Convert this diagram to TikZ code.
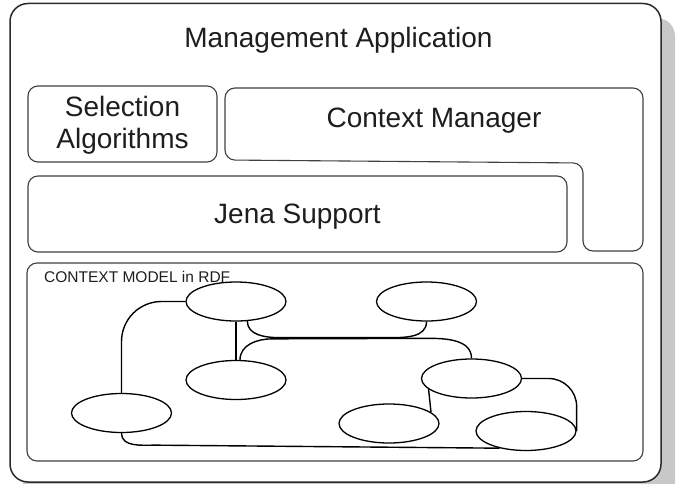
\documentclass[tikz,border=0pt]{standalone}
\usepackage{fontspec}
\setmainfont{Liberation Sans}
\usetikzlibrary{shapes.geometric}
\definecolor{boxgray}{HTML}{404040}
\definecolor{outergray}{HTML}{2A2A2A}
\definecolor{shadowgray}{HTML}{C8C8C8}
\definecolor{textgray}{HTML}{1E1E1E}
\begin{document}
\begin{tikzpicture}[x=1pt,y=-1pt,
  box/.style={draw=boxgray, line width=1.1pt, rounded corners=10pt},
  big/.style={font=\fontsize{28}{31}\selectfont, inner sep=0pt, text=textgray},
  small/.style={font=\fontsize{15.5}{17}\selectfont, inner sep=0pt, text=textgray},
  ell/.style={ellipse, draw=black, fill=white, line width=1.3pt, minimum width=100pt, minimum height=39pt, inner sep=0pt},
  link/.style={draw=black, line width=1.4pt}]
\useasboundingbox (0,0) rectangle (677,484);
% shadow and outer frame
\fill[shadowgray, rounded corners=18pt] (23,18) rectangle (675,500);
\draw[fill=white, draw=outergray, line width=1.5pt, rounded corners=18pt] (10,3.5) rectangle (661,482);
\node[big, anchor=base] (title) at (338.5,48) {Management Application};
% selection algorithms
\node[box, minimum width=189pt, minimum height=76pt] (sel) at (122.5,124) {};
\node[big, anchor=base] (selA) at (122.5,117) {Selection};
\node[big, anchor=base] (selB) at (122.5,149) {Algorithms};
% context manager
\draw[box] (225,88) -- (643,88) -- (643,251) -- (583,251) -- (583,163) -- (225,160) -- cycle;
\node[big, anchor=base] (cmgr) at (434,128) {Context Manager};
% jena
\node[box, minimum width=539pt, minimum height=76pt] (jena) at (297.5,214) {};
\node[big, anchor=base] (jenaT) at (297.5,223) {Jena Support};
% context model
\node[box, minimum width=616pt, minimum height=198pt] (model) at (335,362) {};
\node[small, anchor=base west] (modelT) at (44,282) {CONTEXT MODEL in RDF};
% ellipses
\node[ell] (e1) at (236,301.5) {};
\node[ell] (e2) at (236,380) {};
\node[ell] (e3) at (121.5,413) {};
\node[ell] (e4) at (426.5,301.5) {};
\node[ell] (e5) at (471.5,378.5) {};
\node[ell] (e6) at (389,423.5) {};
\node[ell] (e7) at (526,431) {};
% links
\draw[link, rounded corners=40pt] (e1.west) -| (e3.north);
\draw[link] (e1.south) -- (e2.north);
\draw[link] (e1.300) to[out=-90,in=180] ([shift={(32,16.5)}]e1.300)
  -- ([shift={(-38,16)}]e4.south) to[out=0,in=-90] (e4.south);
\draw[link] ([xshift=4pt]e2.north) to[out=90,in=180] ([shift={(36,-21)}]e2.north)
  -- ([shift={(-42,-20)}]e5.north) to[out=0,in=90] (e5.north);
\draw[link] (e5.194.7) -- (e6.15.3);
\draw[link, rounded corners=28pt] (e5.east) -| (e7.east);
\draw[link] (e3.south) to[out=-90,in=180] ([shift={(34,12)}]e3.south) -- (e7.213);
\end{tikzpicture}
\end{document}
